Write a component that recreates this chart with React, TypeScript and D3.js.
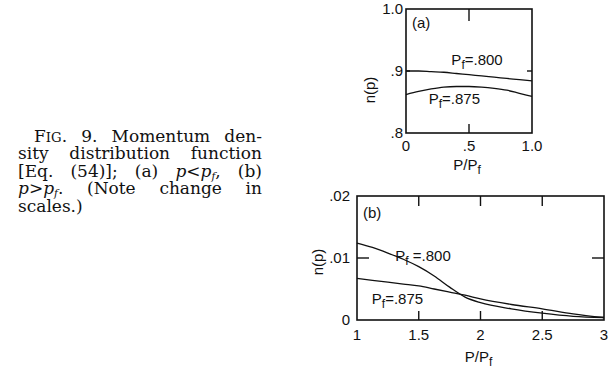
import React, { useEffect, useRef } from "react";
import * as d3 from "d3";

const W = 613;
const H = 370;

// Panel (a): p < p_f
const xA = [0, 0.1, 0.2, 0.3, 0.4, 0.5, 0.6, 0.7, 0.8, 0.9, 1.0];
const nA800 = [0.9, 0.9, 0.899, 0.898, 0.896, 0.894, 0.892, 0.89, 0.888, 0.886, 0.884];
const nA875 = [0.862, 0.867, 0.871, 0.874, 0.875, 0.875, 0.874, 0.872, 0.869, 0.864, 0.859];
const xTicksA = [0, 0.5, 1.0];
const xTickLabelsA = ["0", ".5", "1.0"];
const yTicksA = [0.8, 0.9, 1.0];
const yTickLabelsA = [".8", ".9", "1.0"];

// Panel (b): p > p_f
const xB = [1, 1.125, 1.25, 1.375, 1.5, 1.625, 1.75, 1.875, 2, 2.25, 2.5, 2.75, 3];
const nB800 = [0.0124, 0.0117, 0.0108, 0.0098, 0.0086, 0.0071, 0.0053, 0.0037, 0.0028, 0.0018, 0.0011, 0.0006, 0.0004];
const nB875 = [0.0067, 0.0064, 0.0061, 0.0058, 0.0055, 0.005, 0.0045, 0.004, 0.0034, 0.0025, 0.0018, 0.001, 0.0004];
const xTicksB = [1, 1.5, 2, 2.5, 3];
const xTickLabelsB = ["1", "1.5", "2", "2.5", "3"];
const yTicksB = [0, 0.01, 0.02];
const yTickLabelsB = ["0", ".01", ".02"];

type Seg = { t: string; sc?: boolean; it?: boolean; sub?: boolean };
type Word = Seg[];

// Caption lines, justified between left and right margins
const captionLines: { words: Word[]; indent: boolean; justify: boolean }[] = [
  {
    indent: true,
    justify: true,
    words: [
      [{ t: "F" }, { t: "IG", sc: true }, { t: "." }],
      [{ t: "9." }],
      [{ t: "Momentum" }],
      [{ t: "den-" }],
    ],
  },
  {
    indent: false,
    justify: true,
    words: [[{ t: "sity" }], [{ t: "distribution" }], [{ t: "function" }]],
  },
  {
    indent: false,
    justify: true,
    words: [
      [{ t: "[Eq." }],
      [{ t: "(54)];" }],
      [{ t: "(a)" }],
      [{ t: "p", it: true }, { t: "<" }, { t: "p", it: true }, { t: "f", it: true, sub: true }, { t: "," }],
      [{ t: "(b)" }],
    ],
  },
  {
    indent: false,
    justify: true,
    words: [
      [{ t: "p", it: true }, { t: ">" }, { t: "p", it: true }, { t: "f", it: true, sub: true }, { t: "." }],
      [{ t: "(Note" }],
      [{ t: "change" }],
      [{ t: "in" }],
    ],
  },
  { indent: false, justify: false, words: [[{ t: "scales.)" }]] },
];

const SANS = "'Liberation Sans', Arial, sans-serif";
const SERIF = "'DejaVu Serif', serif";
const INK = "#111";

function Caption() {
  const ref = useRef<SVGGElement>(null);
  useEffect(() => {
    const g = d3.select(ref.current);
    g.selectAll("*").remove();
    const left = 18;
    const right = 262;
    const indentX = 34;
    const base0 = 142;
    const lead = 17.4;
    const fs = 17;

    // writes a word's segments as tspans; the first one gets the x position
    const writeWord = (t: any, word: Word, x: number | null) => {
      let shifted = false;
      word.forEach((s, si) => {
        const ts = t.append("tspan").text(s.t);
        if (si === 0 && x !== null) ts.attr("x", x);
        ts.attr("font-size", s.sc ? fs * 0.78 : s.sub ? fs * 0.62 : fs);
        if (s.it) ts.attr("font-style", "italic");
        if (s.sub) {
          ts.attr("dy", 3);
          shifted = true;
        } else if (shifted) {
          ts.attr("dy", -3);
          shifted = false;
        }
      });
    };

    captionLines.forEach((line, li) => {
      const y = base0 + li * lead;
      // measure each word
      const widths = line.words.map((word) => {
        const tmp = g.append("text").attr("font-family", SERIF).attr("font-size", fs);
        writeWord(tmp, word, null);
        const w = (tmp.node() as SVGTextElement).getComputedTextLength();
        tmp.remove();
        return w;
      });
      const x0 = line.indent ? indentX : left;
      const total = d3.sum(widths);
      const gap =
        line.justify && widths.length > 1
          ? (right - x0 - total) / (widths.length - 1)
          : fs * 0.3;
      const t = g
        .append("text")
        .attr("y", y)
        .attr("font-family", SERIF)
        .attr("font-size", fs)
        .attr("fill", INK);
      let x = x0;
      line.words.forEach((word, wi) => {
        writeWord(t, word, x);
        x += widths[wi] + gap;
      });
    });
  }, []);
  return <g ref={ref} />;
}

function SubLabel({ x, y, main, sub, rest, size = 14, anchor = "start" }: any) {
  return (
    <text x={x} y={y} fontFamily={SANS} fontSize={size} fill={INK} textAnchor={anchor}>
      {main}
      <tspan fontSize={size * 0.8} dy={4}>
        {sub}
      </tspan>
      <tspan dy={-4}>{rest}</tspan>
    </text>
  );
}

function Panel({
  box,
  xDomain,
  yDomain,
  xTicks,
  xLabels,
  yTicks,
  yLabels,
  xs,
  series,
  tag,
  innerX,
  innerY,
  tickLen,
  ylabelPos,
  ylabGap,
  xlabOff,
  xlabelY,
  curveLabels,
}: any) {
  const x = d3.scaleLinear().domain(xDomain).range([box.l, box.r]);
  const y = d3.scaleLinear().domain(yDomain).range([box.b, box.t]);
  const line = d3
    .line<number>()
    .x((_, i) => x(xs[i]))
    .y((d) => y(d))
    .curve(d3.curveMonotoneX);
  return (
    <g>
      <rect
        x={box.l}
        y={box.t}
        width={box.r - box.l}
        height={box.b - box.t}
        fill="none"
        stroke={INK}
        strokeWidth={1.6}
      />
      {innerX.map((v: number) => (
        <g key={"xt" + v}>
          <line x1={x(v)} x2={x(v)} y1={box.t} y2={box.t + tickLen.xt} stroke={INK} strokeWidth={1.4} />
          <line x1={x(v)} x2={x(v)} y1={box.b} y2={box.b - tickLen.xb} stroke={INK} strokeWidth={1.4} />
        </g>
      ))}
      {innerY.map((v: number) => (
        <g key={"yt" + v}>
          <line x1={box.l} x2={box.l + tickLen.yl} y1={y(v)} y2={y(v)} stroke={INK} strokeWidth={1.4} />
          <line x1={box.r} x2={box.r - tickLen.yr} y1={y(v)} y2={y(v)} stroke={INK} strokeWidth={1.4} />
        </g>
      ))}
      {series.map((s: number[], i: number) => (
        <path key={i} d={line(s) || ""} fill="none" stroke={INK} strokeWidth={1.3} />
      ))}
      {xTicks.map((v: number, i: number) => (
        <text key={"xl" + v} x={x(v)} y={box.b + xlabOff} textAnchor="middle" fontFamily={SANS} fontSize={15} fill={INK}>
          {xLabels[i]}
        </text>
      ))}
      {yTicks.map((v: number, i: number) => (
        <text key={"yl" + v} x={box.l - ylabGap} y={y(v) + 5} textAnchor="end" fontFamily={SANS} fontSize={15} fill={INK}>
          {yLabels[i]}
        </text>
      ))}
      <text
        transform={`translate(${ylabelPos[0]},${ylabelPos[1]}) rotate(-90)`}
        textAnchor="middle"
        fontFamily={SANS}
        fontSize={15}
        fill={INK}
      >
        n(p)
      </text>
      <SubLabel x={(box.l + box.r) / 2 - 2} y={xlabelY} main="P/P" sub="f" rest="" size={15} anchor="middle" />
      <text x={box.l + tag[0]} y={box.t + tag[1]} fontFamily={SANS} fontSize={15} fill={INK}>
        {tag[2]}
      </text>
      {curveLabels.map((c: any, i: number) => (
        <SubLabel key={i} x={x(c.x)} y={y(c.y)} main="P" sub="f" rest={c.t} size={15} />
      ))}
    </g>
  );
}

export default function App() {
  return (
    <svg width={W} height={H} style={{ display: "block", position: "absolute", left: 0, top: 0, background: "#fff" }}>
      <rect width={W} height={H} fill="#fff" />
      <Caption />
      <Panel
        box={{ l: 406, r: 532, t: 9, b: 133 }}
        xDomain={[0, 1]}
        yDomain={[0.8, 1.0]}
        xTicks={xTicksA}
        xLabels={xTickLabelsA}
        yTicks={yTicksA}
        yLabels={yTickLabelsA}
        xs={xA}
        series={[nA800, nA875]}
        tag={[6, 19, "(a)"]}
        innerX={[0.5]}
        innerY={[0.9]}
        tickLen={{ xt: 12, xb: 9, yl: 4, yr: 5 }}
        ylabelPos={[375, 90]}
        ylabGap={3}
        xlabOff={18}
        xlabelY={170}
        curveLabels={[
          { x: 0.36, y: 0.91, t: "=.800" },
          { x: 0.18, y: 0.847, t: "=.875" },
        ]}
      />
      <Panel
        box={{ l: 357, r: 604, t: 196, b: 320 }}
        xDomain={[1, 3]}
        yDomain={[0, 0.02]}
        xTicks={xTicksB}
        xLabels={xTickLabelsB}
        yTicks={yTicksB}
        yLabels={yTickLabelsB}
        xs={xB}
        series={[nB800, nB875]}
        tag={[6, 22, "(b)"]}
        innerX={[1.5, 2, 2.5]}
        innerY={[0.01]}
        tickLen={{ xt: 10, xb: 9, yl: 12, yr: 12 }}
        ylabelPos={[323, 262]}
        ylabGap={7}
        xlabOff={20}
        xlabelY={362}
        curveLabels={[
          { x: 1.31, y: 0.0095, t: " =.800" },
          { x: 1.12, y: 0.0026, t: "=.875" },
        ]}
      />
    </svg>
  );
}
